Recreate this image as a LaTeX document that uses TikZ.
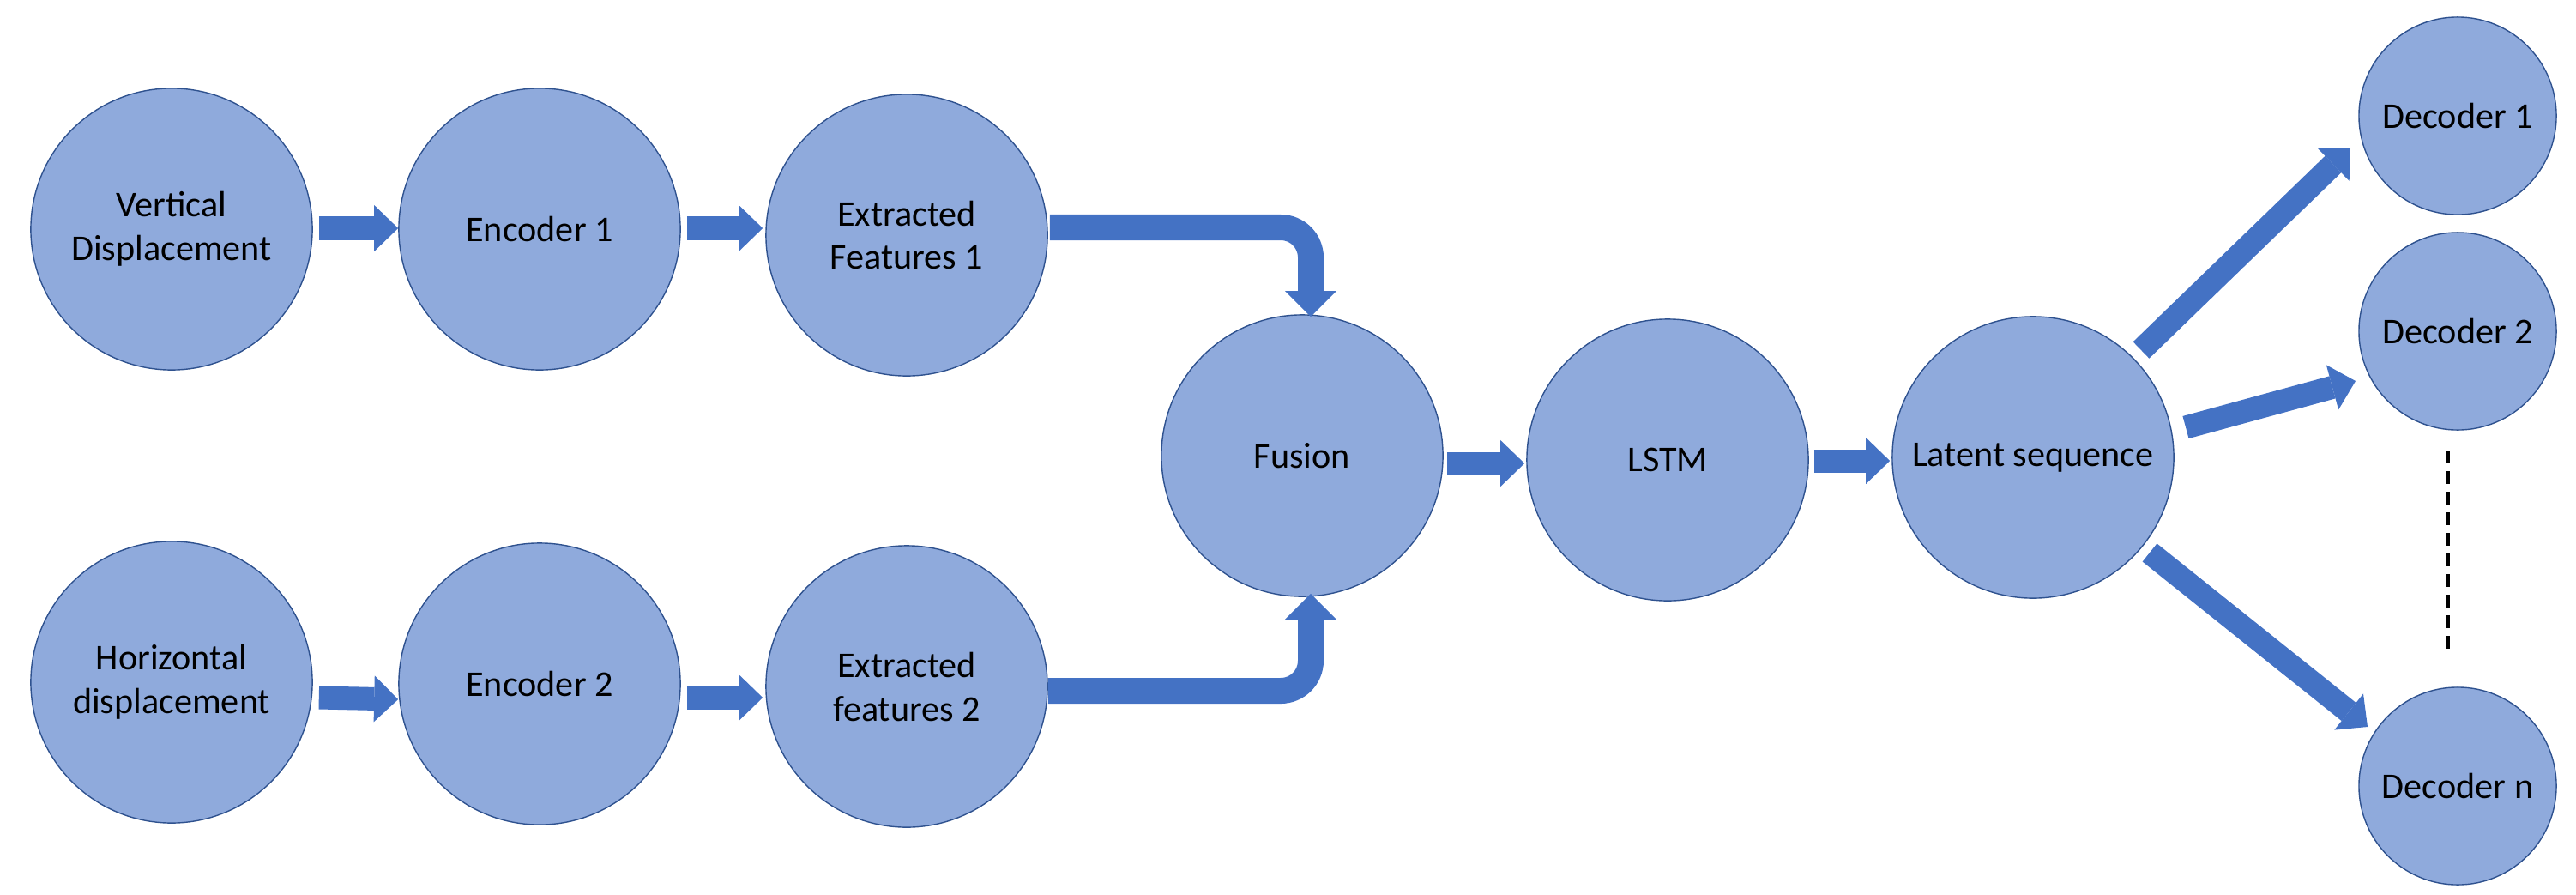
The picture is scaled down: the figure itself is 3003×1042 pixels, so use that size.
\documentclass[tikz,border=0pt]{standalone}
\usepackage{fontspec}
\setmainfont{Carlito}
\usetikzlibrary{arrows.meta}
\definecolor{circfill}{HTML}{8FAADC}
\definecolor{circline}{HTML}{2F528F}
\definecolor{arrowblue}{HTML}{4472C4}
\begin{document}
\begin{tikzpicture}[x=0.01cm,y=-0.01cm,
  bigcirc/.style={circle,fill=circfill,draw=circline,line width=0.4pt,minimum size=3.28cm,inner sep=0pt,align=center,font=\fontsize{12}{14.5}\selectfont},
  deccirc/.style={bigcirc,minimum size=2.3cm},
  blk/.style={draw=arrowblue,line width=0.27cm,-{Triangle[length=0.28cm,width=0.54cm,line width=0pt]}},
  bentblk/.style={draw=arrowblue,line width=0.30cm,rounded corners=0.35cm,-{Triangle[length=0.30cm,width=0.60cm,line width=0pt]}},
  dots/.style={draw=black,line width=0.04cm,dash pattern=on 0.15cm off 0.09cm}]
\useasboundingbox (0,0) rectangle (3003,1042);
\node[bigcirc] (vd) at (200,267) {Vertical\\Displacement};
\node[bigcirc] (enc1) at (629,267) {Encoder 1};
\node[bigcirc] (ef1) at (1057,274) {Extracted\\Features 1};
\node[bigcirc] (hd) at (200,795) {Horizontal\\displacement};
\node[bigcirc] (enc2) at (629,797) {Encoder 2};
\node[bigcirc] (ef2) at (1057,800) {Extracted\\features 2};
\node[bigcirc] (fusion) at (1518,531) {Fusion};
\node[bigcirc] (lstm) at (1944,536) {LSTM};
\node[bigcirc] (latent) at (2370,533) {Latent sequence};
\node[deccirc] (dec1) at (2865,135) {Decoder 1};
\node[deccirc] (dec2) at (2865,386) {Decoder 2};
\node[deccirc] (decn) at (2865,916) {Decoder n};
% straight arrows
\draw[blk] ([shift={(7,-1)}]vd.east) -- ([shift={(0,-1)}]enc1.west);
\draw[blk] ([shift={(7,-1)}]enc1.east) -- ([shift={(-3,-8)}]ef1.west);
\draw[blk] ([shift={(7,18)}]hd.east) -- ([shift={(0,18)}]enc2.west);
\draw[blk] ([shift={(7,16)}]enc2.east) -- ([shift={(-3,13)}]ef2.west);
\draw[blk] ([shift={(4,9)}]fusion.east) -- ([shift={(-2,4)}]lstm.west);
\draw[blk] ([shift={(6,1)}]lstm.east) -- ([shift={(-2,4)}]latent.west);
% bent arrows into fusion
\draw[bentblk] ([shift={(2,-9)}]ef1.east) -| ([shift={(10,3)}]fusion.north);
\draw[bentblk] ([shift={(0,5)}]ef2.east) -| ([shift={(10,-4)}]fusion.south);
% arrows to decoders
\draw[blk] ([shift={(126,-125)}]latent.center) -- ([shift={(-125,37)}]dec1.center);
\draw[blk] ([shift={(178,-35)}]latent.center) -- ([shift={(-119,58)}]dec2.center);
\draw[blk] ([shift={(136,111)}]latent.center) -- ([shift={(-105,-69)}]decn.center);
% dashed continuation
\coordinate (dtop) at ([shift={(-11,139)}]dec2.center);
\coordinate (dbot) at ([shift={(-11,-152)}]decn.center);
\draw[dots] (dtop) -- (dbot);
\end{tikzpicture}
\end{document}
